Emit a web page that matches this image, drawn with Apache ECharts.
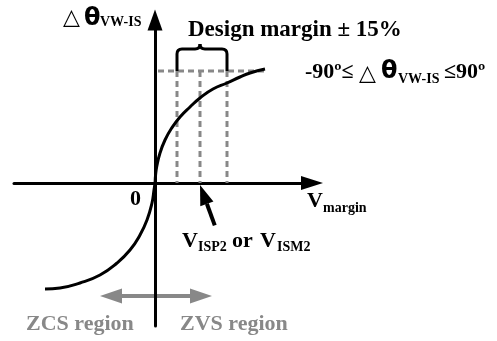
<!DOCTYPE html>
<html><head><meta charset="utf-8">
<script src="https://cdn.jsdelivr.net/npm/echarts@6/dist/echarts.min.js"></script>
<style>html,body{margin:0;padding:0;background:#fff}#c{width:497px;height:341px}</style>
</head><body><div id="c"></div>
<script>
// Phase difference vs. voltage margin, sampled along V_margin
const curveX = [-1.10, -0.95, -0.75, -0.55, -0.38, -0.25, -0.15, -0.08, -0.03, -0.01, 0, 0.005, 0.017, 0.05, 0.10, 0.167, 0.25, 0.35, 0.45, 0.58, 0.72, 0.85, 0.95, 1.10];
const curveY = [-1.06, -1.05, -1.00, -0.92, -0.80, -0.67, -0.52, -0.37, -0.20, -0.07, 0, 0.07, 0.163, 0.30, 0.43, 0.55, 0.66, 0.76, 0.85, 0.94, 1.00, 1.06, 1.10, 1.14];
// Design-margin band: lower edge, nominal V_ISP2/V_ISM2, upper edge
const marginX = [0.22, 0.45, 0.72];
// Saturation level of the phase difference and its guide extent
const plateauY = 1.12;
const plateauX = [0.03, 1.10];
// Axis ranges
const xRange = [-1.41, 1.57];
const yRange = [-1.43, 1.63];

const BLACK = '#000';
const GREY = '#888';
const SERIF = '"Liberation Serif", "Times New Roman", serif';
const dash = { color: GREY, width: 3, type: [6, 4] };

const chart = echarts.init(document.getElementById('c'), null, { renderer: 'canvas' });

const axisCommon = {
  type: 'value',
  axisTick: { show: false },
  axisLabel: { show: false },
  splitLine: { show: false },
};

const guideSeries = [
  {
    type: 'line', silent: true, symbol: 'none', lineStyle: dash,
    data: [[plateauX[0], plateauY], [plateauX[1], plateauY]],
  },
  ...marginX.map(x => ({
    type: 'line', silent: true, symbol: 'none', lineStyle: dash,
    data: [[x, plateauY], [x, 0]],
  })),
];

chart.setOption({
  animation: false,
  backgroundColor: '#fff',
  grid: { left: 14, right: 185, top: 20, bottom: 15 },
  xAxis: Object.assign({}, axisCommon, {
    min: xRange[0], max: xRange[1],
    axisLine: { onZero: true, symbol: ['none', 'triangle'], symbolSize: [14, 22],
      lineStyle: { color: BLACK, width: 3 } },
  }),
  yAxis: Object.assign({}, axisCommon, {
    min: yRange[0], max: yRange[1],
    axisLine: { onZero: true, symbol: ['none', 'triangle'], symbolSize: [15, 21],
      lineStyle: { color: BLACK, width: 3 } },
  }),
  series: guideSeries.concat([{
    type: 'line', silent: true, symbol: 'none', smooth: 0.5,
    lineStyle: { color: BLACK, width: 3 },
    data: curveX.map((x, i) => [x, curveY[i]]),
  }]),
});

const px = p => chart.convertToPixel({ gridIndex: 0 }, p);

// Curly brace spanning the design-margin band
const bl = px([marginX[0], plateauY]);
const br = px([marginX[2], plateauY]);
const bm = px([marginX[1], plateauY]);
const yT = bl[1] - 22, L = bl[0], R = br[0], M = bm[0], yB = bl[1];
const braceStroke = { fill: null, stroke: BLACK, lineWidth: 3 };
const seg = (x1, y1, x2, y2) => ({ type: 'line', silent: true, z: 5,
  shape: { x1, y1, x2, y2 }, style: braceStroke });
const qc = (x1, y1, cx, cy, x2, y2) => ({ type: 'bezierCurve', silent: true, z: 5,
  shape: { x1, y1, cpx1: cx, cpy1: cy, x2, y2 }, style: braceStroke });
const brace = [
  seg(L, yB, L, yT + 5),
  qc(L, yT + 5, L, yT, L + 5, yT),
  seg(L + 5, yT, M - 5, yT),
  qc(M - 5, yT, M, yT, M, yT - 5),
  qc(M, yT - 5, M, yT, M + 5, yT),
  seg(M + 5, yT, R - 5, yT),
  qc(R - 5, yT, R, yT, R, yT + 5),
  seg(R, yT + 5, R, yB),
];

// Pointer to the nominal design point
const tip = px([marginX[1], 0]);
tip[1] += 2;
const dir = [15, 41];
const len = Math.hypot(dir[0], dir[1]);
const u = [dir[0] / len, dir[1] / len];
const nrm = [-u[1], u[0]];
const headLen = 20, headHalf = 7, shaftLen = 43;
const base = [tip[0] + u[0] * headLen, tip[1] + u[1] * headLen];
const tail = [tip[0] + u[0] * shaftLen, tip[1] + u[1] * shaftLen];

// Grey ZCS/ZVS double arrow under the origin
const ga = { y: 296, l: 100, r: 212, head: 22, half: 7.5 };

function txt(x, y, text, font, fill) {
  return { type: 'text', x, y, silent: true,
    style: { text, font, fill: fill || BLACK, align: 'left', verticalAlign: 'middle' } };
}
const bold = s => `bold ${s}px ${SERIF}`;

chart.setOption({
  graphic: brace.concat([
    { type: 'line', silent: true, z: 5,
      shape: { x1: base[0], y1: base[1], x2: tail[0], y2: tail[1] },
      style: { stroke: BLACK, lineWidth: 4 } },
    { type: 'polygon', silent: true, z: 5,
      shape: { points: [tip,
        [base[0] + nrm[0] * headHalf, base[1] + nrm[1] * headHalf],
        [base[0] - nrm[0] * headHalf, base[1] - nrm[1] * headHalf]] },
      style: { fill: BLACK } },
    { type: 'line', silent: true, z: -10,
      shape: { x1: ga.l + ga.head - 2, y1: ga.y, x2: ga.r - ga.head + 2, y2: ga.y },
      style: { stroke: GREY, lineWidth: 4 } },
    { type: 'polygon', silent: true, z: -10,
      shape: { points: [[ga.l, ga.y], [ga.l + ga.head, ga.y - ga.half], [ga.l + ga.head, ga.y + ga.half]] },
      style: { fill: GREY } },
    { type: 'polygon', silent: true, z: -10,
      shape: { points: [[ga.r, ga.y], [ga.r - ga.head, ga.y - ga.half], [ga.r - ga.head, ga.y + ga.half]] },
      style: { fill: GREY } },

    // Y-axis title
    txt(63, 18, '△', '22px "DejaVu Sans"'),
    txt(84, 19, 'θ', 'bold 24px "DejaVu Sans"'),
    txt(100, 22, 'VW-IS', bold(14)),

    txt(188, 30, 'Design margin ± 15%', bold(23)),

    // Phase range
    txt(305, 72, '-90º≤', bold(22)),
    txt(359, 74, '△', '22px "DejaVu Sans"'),
    txt(381, 72, 'θ', 'bold 24px "DejaVu Sans"'),
    txt(398, 79, 'VW-IS', bold(14)),
    txt(444, 72, '≤90º', bold(22)),

    txt(130, 199, '0', bold(22)),

    // X-axis title
    txt(307, 201, 'V', bold(22)),
    txt(323, 208, 'margin', bold(14)),

    // Design point label
    txt(182, 241, 'V', bold(22)),
    txt(198, 247, 'ISP2', bold(14)),
    txt(232, 241, 'or', bold(22)),
    txt(260, 241, 'V', bold(22)),
    txt(277, 247, 'ISM2', bold(14)),

    txt(26, 324, 'ZCS region', bold(22), GREY),
    txt(180, 324, 'ZVS region', bold(22), GREY),
  ]),
});
</script></body></html>
